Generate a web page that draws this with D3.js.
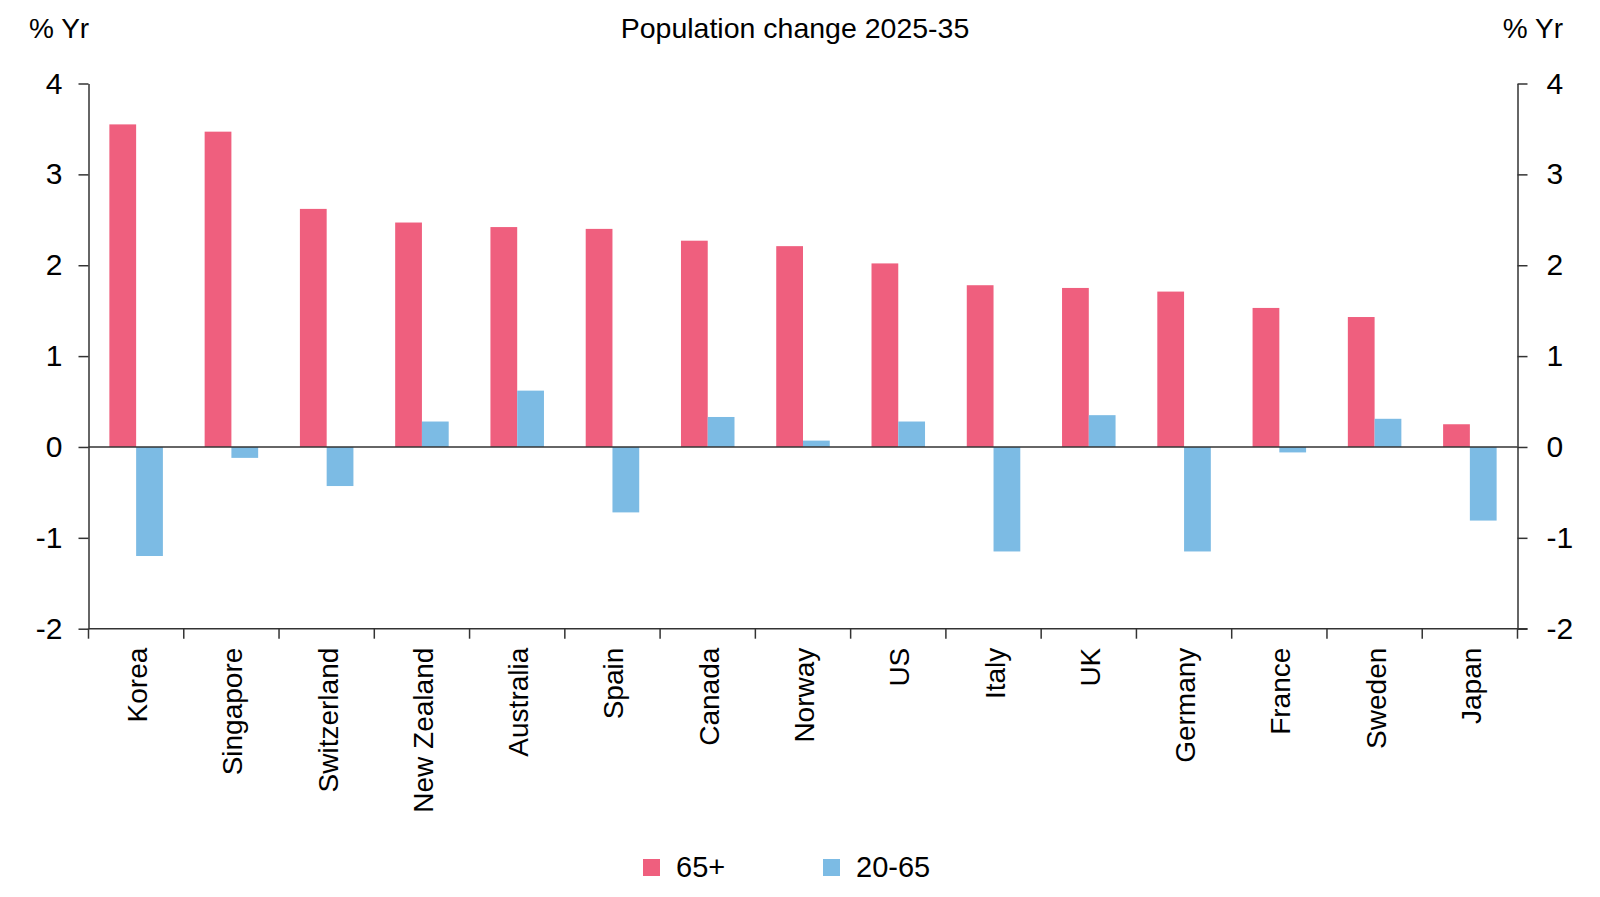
<!DOCTYPE html>
<meta charset="utf-8" />
<script src="https://d3js.org/d3.v7.js"></script>
<style>
  body { margin: 0; background: #fff; }
  text { font-family: "Liberation Sans", Arial, sans-serif; fill: #000; }
</style>
<div id="chart"></div>
<script>
  // data
  const countries = ["Korea", "Singapore", "Switzerland", "New Zealand", "Australia", "Spain",
    "Canada", "Norway", "US", "Italy", "UK", "Germany", "France", "Sweden", "Japan"];
  const old65 = [3.55, 3.47, 2.62, 2.47, 2.42, 2.40, 2.27, 2.21, 2.02, 1.78, 1.75, 1.71, 1.53, 1.43, 0.25];
  const working = [-1.20, -0.12, -0.43, 0.28, 0.62, -0.72, 0.33, 0.07, 0.28, -1.15, 0.35, -1.15, -0.06, 0.31, -0.81];
  const yTicks = [4, 3, 2, 1, 0, -1, -2];
  const seriesNames = ["65+", "20-65"];

  const width = 1600;
  const height = 897;
  const mLeft = 88.5, mRight = 1517.5, mTop = 83.5, mBottom = 628.7;
  const colors = ["#ef5f7e", "#7cbbe4"];
  const axisColor = "#333";

  const svg = d3.select("#chart").append("svg")
    .attr("width", width)
    .attr("height", height);

  const x = d3.scaleBand().domain(countries).range([mLeft, mRight]).paddingInner(0).paddingOuter(0);
  const inner = d3.scaleBand().domain(seriesNames).range([0, x.bandwidth()]).paddingOuter(0.78).paddingInner(0);
  const y = d3.scaleLinear().domain([-2, 4]).range([mBottom, mTop]);

  // bars
  const rows = countries.map((c, i) => ({ key: c, vals: [old65[i], working[i]] }));
  const groups = svg.append("g").selectAll("g").data(rows).join("g")
    .attr("transform", d => `translate(${x(d.key)},0)`);
  groups.selectAll("rect")
    .data(d => d.vals.map((v, j) => ({ name: seriesNames[j], v: v, j: j })))
    .join("rect")
    .attr("x", d => inner(d.name))
    .attr("width", inner.bandwidth())
    .attr("y", d => y(Math.max(0, d.v)))
    .attr("height", d => Math.abs(y(d.v) - y(0)))
    .attr("fill", d => colors[d.j]);

  // zero line
  svg.append("line")
    .attr("x1", mLeft).attr("x2", mRight)
    .attr("y1", y(0)).attr("y2", y(0))
    .attr("stroke", axisColor).attr("stroke-width", 1.5);

  // left and right axes, hyphen minus like the reference
  const fmt = d => String(d);
  const yl = svg.append("g").attr("transform", `translate(${mLeft},0)`)
    .call(d3.axisLeft(y).tickValues(yTicks).tickFormat(fmt).tickSize(10).tickPadding(16).tickSizeOuter(0));
  const yr = svg.append("g").attr("transform", `translate(${mRight},0)`)
    .call(d3.axisRight(y).tickValues(yTicks).tickFormat(fmt).tickSize(10).tickPadding(19).tickSizeOuter(0));
  [yl, yr].forEach(a => {
    a.select(".domain").attr("stroke", axisColor).attr("stroke-width", 1.5);
    a.selectAll(".tick line").attr("stroke", axisColor).attr("stroke-width", 1.5);
    a.selectAll("text").style("font-size", "30px").attr("fill", "#000")
      .attr("font-family", null);
  });

  // bottom axis at -2
  const xa = svg.append("g").attr("transform", `translate(0,${mBottom})`)
    .call(d3.axisBottom(x).tickSize(10).tickSizeOuter(0).tickFormat(""));
  xa.select(".domain").attr("d", `M${mLeft},0H${mRight + 10}`).attr("stroke", axisColor).attr("stroke-width", 1.5);
  xa.selectAll(".tick").attr("transform", d => `translate(${x(d)},0)`);
  xa.selectAll(".tick line").attr("stroke", axisColor).attr("stroke-width", 1.5);
  xa.append("line").attr("x1", mRight).attr("x2", mRight).attr("y1", 0).attr("y2", 10)
    .attr("stroke", axisColor).attr("stroke-width", 1.5);

  // category labels
  svg.append("g").selectAll("text").data(countries).join("text")
    .attr("transform", d => `translate(${x(d) + x.bandwidth() / 2 + 11},${mBottom + 19}) rotate(-90)`)
    .attr("text-anchor", "end")
    .style("font-size", "28px")
    .text(d => d);

  // titles
  svg.append("text").attr("x", 795).attr("y", 38).attr("text-anchor", "middle")
    .style("font-size", "28.5px").text("Population change 2025-35");
  svg.append("text").attr("x", 29).attr("y", 38).style("font-size", "28px").text("% Yr");
  svg.append("text").attr("x", 1563).attr("y", 38).attr("text-anchor", "end")
    .style("font-size", "28px").text("% Yr");

  // legend
  const legX = [643, 823];
  const leg = svg.append("g").selectAll("g").data(seriesNames).join("g")
    .attr("transform", (d, i) => `translate(${legX[i]},859)`);
  leg.append("rect").attr("width", 17).attr("height", 17).attr("fill", (d, i) => colors[i]);
  leg.append("text").attr("x", 33).attr("y", 18).style("font-size", "29px").text(d => d);
</script>
